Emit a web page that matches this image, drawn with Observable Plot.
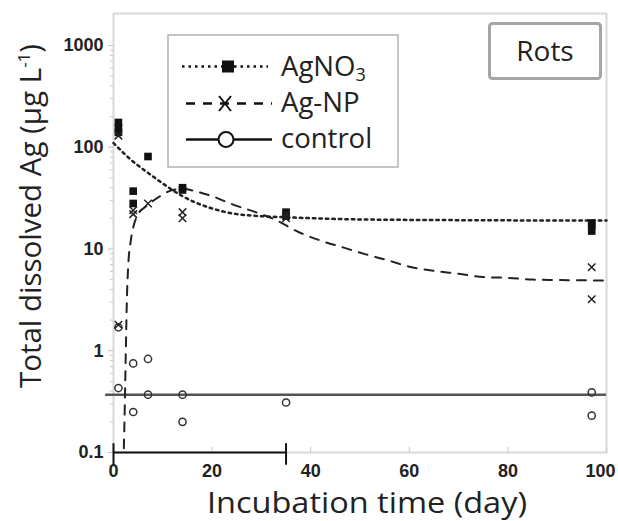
<!DOCTYPE html>
<html><head><meta charset="utf-8">
<script src="https://cdn.jsdelivr.net/npm/d3@7"></script>
<script src="https://cdn.jsdelivr.net/npm/@observablehq/plot@0.6"></script>
<style>body{margin:0;background:#fff} svg{display:block}</style>
</head><body><div id="chart"></div>
<script>
// ---- measured points (day, total dissolved Ag µg/L) ----
const daysAgNO3 = [1, 1, 1, 4, 4, 7, 14, 14, 35, 35, 97, 97, 97];
const valsAgNO3 = [175, 155, 140, 37, 28, 81, 40, 38, 23, 21, 18, 17, 15];
const daysAgNP = [1, 1, 4, 4, 7, 14, 14, 35, 35, 97, 97];
const valsAgNP = [130, 1.8, 24, 22, 28, 23, 20, 22, 20, 6.6, 3.2];
const daysControl = [1, 1, 4, 4, 7, 7, 14, 14, 35, 97, 97];
const valsControl = [1.7, 0.43, 0.75, 0.25, 0.83, 0.37, 0.37, 0.2, 0.31, 0.39, 0.23];
// ---- fitted curves ----
const fitDaysAgNO3 = [0, 2, 4, 7, 10, 14, 20, 25, 30, 35, 50, 70, 100];
const fitValsAgNO3 = [110, 88, 72, 56, 44, 33, 25, 22, 21, 20.5, 19.5, 19.2, 19];
const fitDaysAgNP = [2.1, 2.3, 2.5, 2.7, 3.0, 3.5, 4.1, 5, 6.5, 9, 12, 14, 17, 20, 24, 28.8, 32.5, 37.6, 42, 46.7, 51, 55.8, 60, 65, 70, 75, 80, 85, 90, 100];
const fitValsAgNP = [0.11, 0.3, 1, 3, 7, 12, 17, 22, 26, 32, 38, 39, 36.5, 33, 27.6, 23, 19.7, 14.6, 12.1, 10.3, 8.9, 7.7, 6.7, 6.1, 5.7, 5.3, 5.2, 5.0, 4.95, 4.9];
const controlLevel = [0.37];
const controlSpan = [-1.6, 100];
const baseSegment = [0, 35];
const baseCapRange = [0.075, 0.122];
// ---- ticks & labels ----
const xTicks = [0, 20, 40, 60, 80, 100];
const yTicks = [0.1, 1, 10, 100, 1000];
const yTickLabels = ["0.1", "1", "10", "100", "1000"];
const yMinor = [0.2,0.3,0.4,0.5,0.6,0.7,0.8,0.9, 2,3,4,5,6,7,8,9, 20,30,40,50,60,70,80,90, 200,300,400,500,600,700,800,900];
const seriesNames = ["AgNO", "Ag-NP", "control"];
const xTitle = "Incubation time (day)";
const yTitle = "Total dissolved Ag (μg L";
const panelName = "Rots";

const pts = (d, v) => d.map((x, i) => ({day: x, v: v[i]}));
const agno3 = pts(daysAgNO3, valsAgNO3);
const agnp = pts(daysAgNP, valsAgNP);
const ctrl = pts(daysControl, valsControl);
const fitA = pts(fitDaysAgNO3, fitValsAgNO3);
const fitN = pts(fitDaysAgNP, fitValsAgNP);

const xLabelStyle = {tickSize: 0, tickPadding: 12, fontSize: 18, fontWeight: "bold", fill: "#222", label: null};

const chart = Plot.plot({
  width: 618, height: 521,
  marginLeft: 113, marginRight: 12, marginTop: 13, marginBottom: 69,
  x: {domain: [0, 100]},
  y: {type: "log", domain: [0.1, 2060]},
  style: {fontFamily: "'Liberation Sans', Arial, sans-serif", background: "white", color: "#222"},
  marks: [
    Plot.frame({stroke: "#d9d9d9", strokeWidth: 2}),
    Plot.axisY(yMinor, {tickSize: 3, tickFormat: () => "", stroke: "#c8c8c8", label: null}),
    Plot.axisY(yTicks, {tickSize: 5, tickPadding: 5, tickFormat: d => yTickLabels[yTicks.indexOf(d)], fontSize: 18, fontWeight: "bold", stroke: "#c0c0c0", fill: "#222", label: null}),
    Plot.axisX(xTicks, {tickSize: -5, tickFormat: () => "", stroke: "#c8c8c8", label: null}),
    Plot.axisX(xTicks.slice(0, -1), xLabelStyle),
    Plot.axisX(xTicks.slice(-1), {...xLabelStyle, dx: -6}),
    Plot.ruleY(controlLevel, {x1: controlSpan[0], x2: controlSpan[1], stroke: "#555", strokeWidth: 2.5}),
    Plot.line(fitA, {x: "day", y: "v", curve: "monotone-x", stroke: "#222", strokeWidth: 2.5, strokeDasharray: "2.5,4"}),
    Plot.line(fitN, {x: "day", y: "v", curve: "monotone-x", stroke: "#222", strokeWidth: 2, strokeDasharray: "9,8"}),
    Plot.ruleY([yTicks[0]], {x1: baseSegment[0], x2: baseSegment[1], stroke: "#111", strokeWidth: 2}),
    Plot.ruleX(baseSegment, {y1: baseCapRange[0], y2: baseCapRange[1], stroke: "#111", strokeWidth: 2}),
    Plot.dot(ctrl, {x: "day", y: "v", r: 3.6, stroke: "#333", strokeWidth: 1.5, fill: "none"}),
    Plot.dot(agno3, {x: "day", y: "v", symbol: "square", r: 4.3, fill: "#111"}),
    Plot.dot(agnp, {x: "day", y: "v", symbol: "times", r: 3.5, stroke: "#222", strokeWidth: 1.5})
  ]
});
document.getElementById("chart").append(chart);

const svg = d3.select(chart);
const font = "'Open Sans', sans-serif";
// axis titles
const yt = svg.append("text").attr("transform", "translate(41,216) rotate(-90)")
  .attr("text-anchor", "middle").attr("font-family", font).attr("font-size", 29.5).attr("fill", "#222");
yt.append("tspan").text(yTitle);
yt.append("tspan").attr("font-size", 17).attr("dy", -11).text("-1");
yt.append("tspan").attr("dy", 11).text(")");
svg.append("text").attr("x", 367).attr("y", 513).attr("text-anchor", "middle")
  .attr("font-family", font).attr("font-size", 29).attr("textLength", 320).attr("lengthAdjust", "spacingAndGlyphs")
  .attr("fill", "#222").text(xTitle);

// legend
const lg = svg.append("g");
lg.append("rect").attr("x", 168).attr("y", 35).attr("width", 230).attr("height", 132)
  .attr("fill", "white").attr("stroke", "#a6a6a6").attr("stroke-width", 1.3);
const rowsY = [66.5, 103.5, 139.5];
const dashes = ["2.5,4", "9,8", null];
rowsY.forEach((y, i) => {
  const l = lg.append("line").attr("x1", i === 0 ? 182 : 186).attr("x2", i === 0 ? 268 : 272)
    .attr("y1", y).attr("y2", y).attr("stroke", "#111").attr("stroke-width", 2.5);
  if (dashes[i]) l.attr("stroke-dasharray", dashes[i]);
  const t = lg.append("text").attr("x", 281).attr("y", y + 8 + (i === 0 ? 1 : 0)).attr("font-family", font)
    .attr("text-anchor", "start").attr("font-size", 27.5).attr("fill", "#222").text(seriesNames[i]);
  if (i === 0) t.append("tspan").attr("font-size", 18).attr("dy", 5).text("3");
});
lg.append("rect").attr("x", 222).attr("y", 60.5).attr("width", 12).attr("height", 12).attr("fill", "#111");
lg.append("path").attr("d", "M219,96 L231,111 M231,96 L219,111").attr("stroke", "#111").attr("stroke-width", 2).attr("fill", "none");
lg.append("circle").attr("cx", 226).attr("cy", 139.5).attr("r", 7.5).attr("fill", "white").attr("stroke", "#111").attr("stroke-width", 2);

// panel label
svg.append("rect").attr("x", 489.5).attr("y", 23.5).attr("width", 111).attr("height", 55).attr("rx", 3)
  .attr("fill", "white").attr("stroke", "#a5a5a5").attr("stroke-width", 3);
svg.append("text").attr("x", 545).attr("y", 61).attr("text-anchor", "middle").attr("font-family", font)
  .attr("font-size", 28).attr("fill", "#222").text(panelName);
</script>
</body></html>
